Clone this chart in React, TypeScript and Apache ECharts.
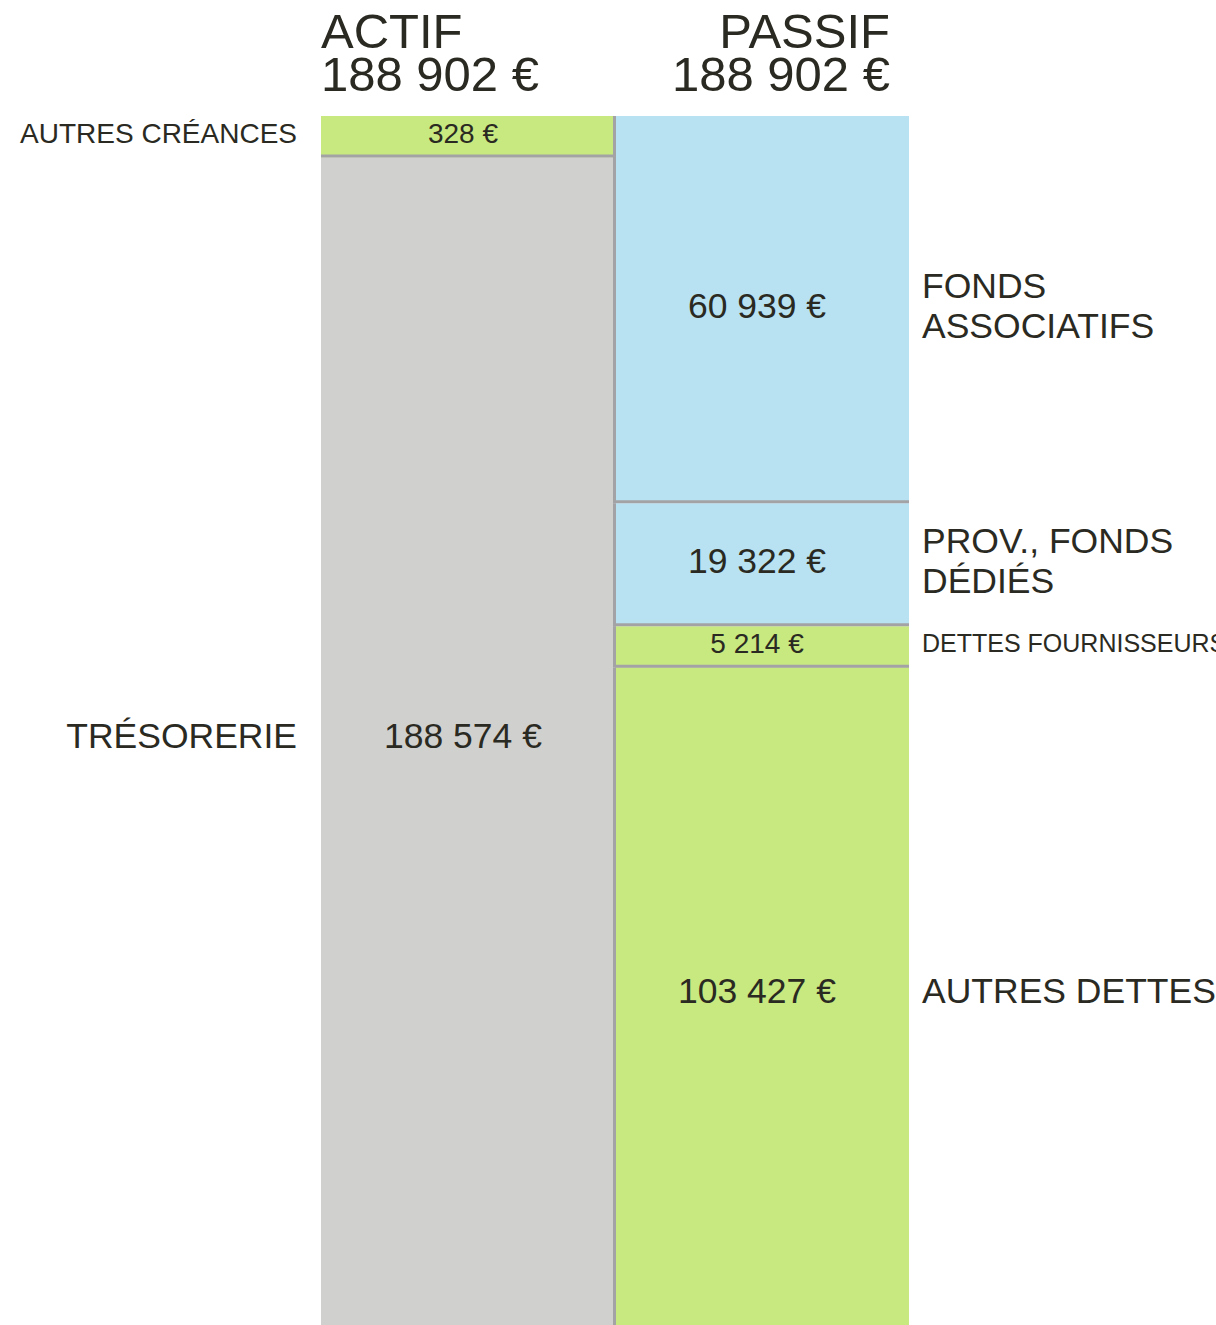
import React, { useEffect, useRef } from 'react';
import * as echarts from 'echarts';

// ---- Data ----
const columns = ['ACTIF', 'PASSIF'];
const actifNames = ['AUTRES CRÉANCES', 'TRÉSORERIE'];
const actifValues = [328, 188574];
const passifNames = ['FONDS\nASSOCIATIFS', 'PROV., FONDS\nDÉDIÉS', 'DETTES FOURNISSEURS', 'AUTRES DETTES'];
const passifValues = [60939, 19322, 5214, 103427];

// ---- Styles ----
const GREEN = '#c8e880';
const BLUE = '#b8e2f2';
const GREY = '#d0d0cf';
const SEP = '#a3a3a6';
const TEXT = '#2a2a22';
const FONT = '"Liberation Sans", Arial, Helvetica, sans-serif';
const actifColors = [GREEN, GREY];
const passifColors = [BLUE, BLUE, GREEN, GREEN];
const MIN_H = 41.5;
const BIG = 35.5;
const SMALL = 28;
const TITLE = 49;

const sum = (a: number[]) => a.reduce((s, v) => s + v, 0);
const fmt = (n: number) => String(n).replace(/\B(?=(\d{3})+(?!\d))/g, ' ') + ' €';

function layoutHeights(vals: number[], H: number, minH: number) {
  const total = sum(vals);
  let small = vals.map((v) => (v / total) * H < minH);
  for (let iter = 0; iter < 5; iter++) {
    const nSmall = small.filter(Boolean).length;
    const rest = H - nSmall * minH;
    const restSum = sum(vals.filter((_, i) => !small[i]));
    const next = vals.map((v, i) => small[i] || (v / restSum) * rest < minH);
    if (next.every((b, i) => b === small[i])) break;
    small = next;
  }
  const nSmall = small.filter(Boolean).length;
  const rest = H - nSmall * minH;
  const restSum = sum(vals.filter((_, i) => !small[i]));
  return { heights: vals.map((v, i) => (small[i] ? minH : (v / restSum) * rest)), small };
}

let measureCtx: CanvasRenderingContext2D | null = null;
function textWidth(text: string, size: number) {
  if (!measureCtx) measureCtx = document.createElement('canvas').getContext('2d');
  if (!measureCtx) return 0;
  measureCtx.font = `${size}px "Liberation Sans"`;
  return Math.max(...text.split('\n').map((l) => measureCtx!.measureText(l).width));
}

export default function App() {
  const ref = useRef<HTMLDivElement>(null);
  useEffect(() => {
    document.body.style.margin = '0';
    if (!ref.current) return;
    const chart = echarts.init(ref.current, undefined, { renderer: 'svg' });
    const actifTotal = sum(actifValues);
    const passifTotal = sum(passifValues);
    const seriesData: any[] = [];
    actifValues.forEach((v, i) => seriesData.push({ value: [0, i, v], name: actifNames[i] }));
    passifValues.forEach((v, i) => seriesData.push({ value: [1, i, v], name: passifNames[i] }));

    const titleText = (text: string, x: number, y: number, align: string) => ({
      type: 'text', x, y,
      style: { text, fill: TEXT, fontSize: TITLE, fontFamily: FONT, lineHeight: 43, align, verticalAlign: 'top' },
    });

    const option: any = {
      animation: false,
      grid: { left: 321, right: 307, top: 116, bottom: 0 },
      xAxis: { type: 'category', data: columns, show: false },
      yAxis: { type: 'value', inverse: true, min: 0, max: Math.max(actifTotal, passifTotal), show: false },
      graphic: [
        titleText(columns[0], 321, 9, 'left'),
        titleText(fmt(actifTotal), 321, 52, 'left'),
        titleText(columns[1], 890, 9, 'right'),
        titleText(fmt(passifTotal), 890, 52, 'right'),
      ],
      series: [
        {
          type: 'custom',
          clip: false,
          data: seriesData,
          encode: { x: 0, y: 2 },
          renderItem: (params: any, api: any) => {
            const c = api.value(0);
            const i = api.value(1);
            const vals = c === 0 ? actifValues : passifValues;
            const names = c === 0 ? actifNames : passifNames;
            const colors = c === 0 ? actifColors : passifColors;
            const total = sum(vals);
            const p0 = api.coord([c, 0]);
            const p1 = api.coord([c, total]);
            const bandW = api.size([1, 0])[0];
            const H = p1[1] - p0[1];
            const { heights, small } = layoutHeights(vals, H, MIN_H);
            const y0 = p0[1] + sum(heights.slice(0, i));
            const h = heights[i];
            const left = p0[0] - bandW / 2;
            const isSmall = small[i];
            const size = isSmall ? SMALL : BIG;
            const isLast = i === vals.length - 1;
            const innerH = isLast ? h : h - 3;
            const cy = y0 + innerH / 2 - (isLast ? 5 : 2);
            const children: any[] = [
              { type: 'rect', shape: { x: left, y: y0, width: bandW, height: h }, style: { fill: colors[i] } },
            ];
            if (i > 0) {
              children.push({
                type: 'line',
                shape: { x1: left, y1: y0 - 1.5, x2: left + bandW, y2: y0 - 1.5 },
                style: { stroke: SEP, lineWidth: 3 },
              });
            }
            if (c === 1) {
              children.push({
                type: 'line',
                shape: { x1: left - 0.5, y1: y0, x2: left - 0.5, y2: y0 + h },
                style: { stroke: SEP, lineWidth: 3 },
              });
            }
            children.push({
              type: 'text',
              style: {
                text: fmt(api.value(2)), x: left + bandW / 2 - 5, y: cy,
                fill: TEXT, fontSize: size, fontFamily: FONT, align: 'center', verticalAlign: 'middle',
              },
            });
            const label = names[i];
            const lx = c === 0 ? left - 24 : left + bandW + 13;
            const avail = (c === 0 ? lx : api.getWidth() - lx) + 12;
            let lsize = size;
            const w = textWidth(label, lsize);
            if (w > avail) lsize = Math.floor((lsize * avail) / w);
            children.push({
              type: 'text',
              style: {
                text: label, x: lx, y: cy,
                fill: TEXT, fontSize: lsize, fontFamily: FONT, lineHeight: 40,
                align: c === 0 ? 'right' : 'left', verticalAlign: 'middle',
              },
            });
            return { type: 'group', children };
          },
        },
      ],
    };
    chart.setOption(option);
    return () => chart.dispose();
  }, []);
  return <div ref={ref} style={{ width: 1216, height: 1325 }} />;
}
